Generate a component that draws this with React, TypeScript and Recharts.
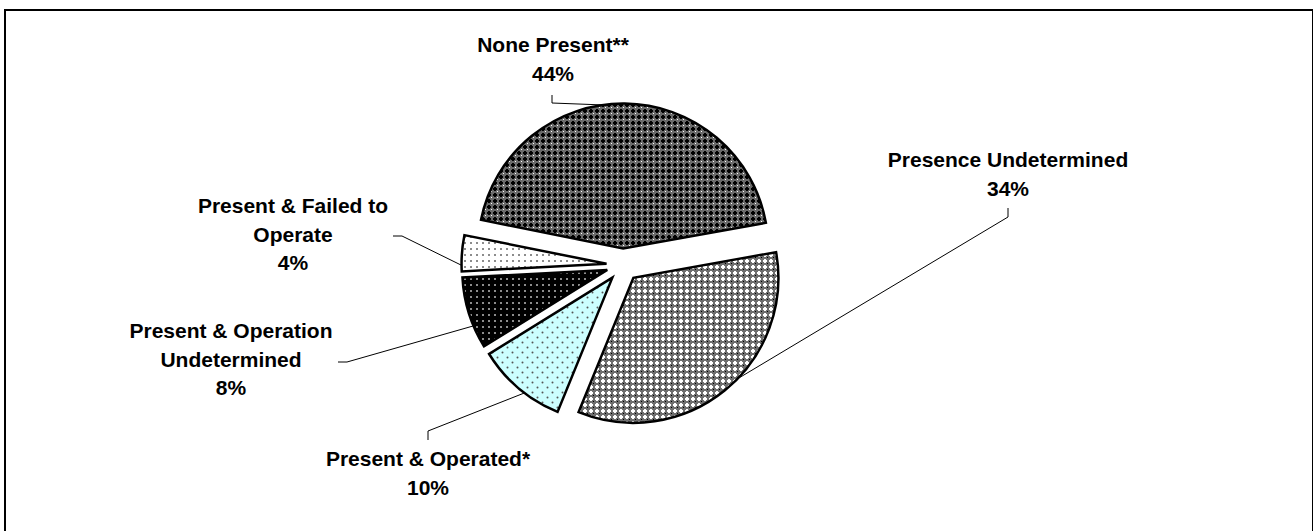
import * as React from 'react';
import { PieChart, Pie, Cell } from 'recharts';

// slices, clockwise from the "Presence Undetermined" edge
const categories = [
  'Presence Undetermined',
  'Present & Operated*',
  'Present & Operation\nUndetermined',
  'Present & Failed to\nOperate',
  'None Present**',
];
const shares = [34, 10, 8, 4, 44];

const data = categories.map((name, i) => ({ name, value: shares[i] }));

// layout of the pie (Excel-like exploded pie)
const CENTER = { x: 623, y: 265 };
const RADIUS = 145;
const EXPLODE = 16.5;
const START = 10.2;

// label placement: text centre x, first baseline y, leader start points, edge angle tweak
const labelLayout = [
  { x: 1008, y: 167, leader: [[1008, 208], [1008, 217]], tweak: 6.8 },
  { x: 428, y: 466, leader: [[428, 440], [428, 431]], tweak: 2.9 },
  { x: 231, y: 338, leader: [[338, 362], [347, 362]], tweak: 5.3 },
  { x: 293, y: 213, leader: [[393, 236], [402, 236]], tweak: 4.8 },
  { x: 553, y: 52, leader: [[552, 95], [552, 103]], tweak: 8.7 },
];

const patternIds = ['patPU', 'patPO', 'patOU', 'patF', 'patNone'];

const RAD = Math.PI / 180;
const total = shares.reduce((a, b) => a + b, 0);
const midAngles = shares.map((v, i) => {
  const before = shares.slice(0, i).reduce((a, b) => a + b, 0);
  return START - ((before + v / 2) / total) * 360;
});

const FONT = '"Liberation Sans", Arial, sans-serif';

function makeLabel(slice: number) {
  return (props: any): React.ReactElement | null => {
    if (props.index !== slice) return null;
    const lay = labelLayout[slice];
    const ang = (props.midAngle + lay.tweak) * RAD;
    const ex = props.cx + props.outerRadius * Math.cos(ang);
    const ey = props.cy - props.outerRadius * Math.sin(ang);
    const pts = [...lay.leader, [ex, ey]].map((p) => p.join(',')).join(' ');
    const lines = [...String(props.name).split('\n'), `${props.value}%`];
    return (
      <g>
        <polyline points={pts} fill="none" stroke="#000" strokeWidth={1} />
        <text
          x={lay.x}
          y={lay.y}
          textAnchor="middle"
          fontFamily={FONT}
          fontWeight="bold"
          fontSize={21}
          fill="#000"
        >
          {lines.map((l, k) => (
            <tspan key={k} x={lay.x} dy={k === 0 ? 0 : 28.5}>
              {l}
            </tspan>
          ))}
        </text>
      </g>
    );
  };
}

export default function App(): React.ReactElement {
  return (
    <div style={{ position: 'absolute', left: 0, top: 0, width: 1313, height: 531, background: '#fff', overflow: 'hidden' }}>
      <div
        style={{
          position: 'absolute',
          left: 4,
          top: 9,
          width: 1310,
          height: 560,
          boxSizing: 'border-box',
          border: '2px solid #000',
        }}
      />
      <div style={{ position: 'absolute', left: 0, top: 0 }}>
        <PieChart width={1313} height={531} margin={{ top: 0, right: 0, bottom: 0, left: 0 }}>
          <defs>
            <pattern id="patNone" width={6} height={6} patternUnits="userSpaceOnUse">
              <rect width={6} height={6} fill="#6a6a6a" />
              <rect x={2} y={1} width={2} height={4} fill="#000" />
              <rect x={1} y={2} width={4} height={2} fill="#000" />
              <rect x={5} y={5} width={1} height={1} fill="#fff" />
            </pattern>
            <pattern id="patPU" width={6} height={6} patternUnits="userSpaceOnUse">
              <rect width={6} height={6} fill="#6e6e6e" />
              <rect x={2} y={1} width={2} height={4} fill="#fff" />
              <rect x={1} y={2} width={4} height={2} fill="#fff" />
              <rect x={5} y={5} width={1} height={1} fill="#000" />
            </pattern>
            <pattern id="patF" width={6} height={6} patternUnits="userSpaceOnUse">
              <rect width={6} height={6} fill="#fff" />
              <circle cx={3} cy={3} r={1} fill="#666" />
            </pattern>
            <pattern id="patOU" width={6} height={6} patternUnits="userSpaceOnUse">
              <rect width={6} height={6} fill="#000" />
              <circle cx={3} cy={3} r={1} fill="#bbb" />
            </pattern>
            <pattern id="patPO" width={10} height={10} patternUnits="userSpaceOnUse">
              <rect width={10} height={10} fill="#ccffff" />
              <circle cx={2.5} cy={2.5} r={1} fill="#555" />
              <circle cx={7.5} cy={7.5} r={1} fill="#555" />
            </pattern>
          </defs>
          {data.map((_, i) => (
            <Pie
              key={i}
              data={data}
              dataKey="value"
              nameKey="name"
              cx={CENTER.x + EXPLODE * Math.cos(midAngles[i] * RAD)}
              cy={CENTER.y - EXPLODE * Math.sin(midAngles[i] * RAD)}
              outerRadius={RADIUS}
              innerRadius={0}
              startAngle={START}
              endAngle={START - 360}
              isAnimationActive={false}
              labelLine={false}
              label={makeLabel(i)}
            >
              {data.map((__, j) => (
                <Cell
                  key={j}
                  fill={j === i ? `url(#${patternIds[j]})` : 'none'}
                  stroke={j === i ? '#000' : 'none'}
                  strokeWidth={2.5}
                />
              ))}
            </Pie>
          ))}
        </PieChart>
      </div>
    </div>
  );
}
